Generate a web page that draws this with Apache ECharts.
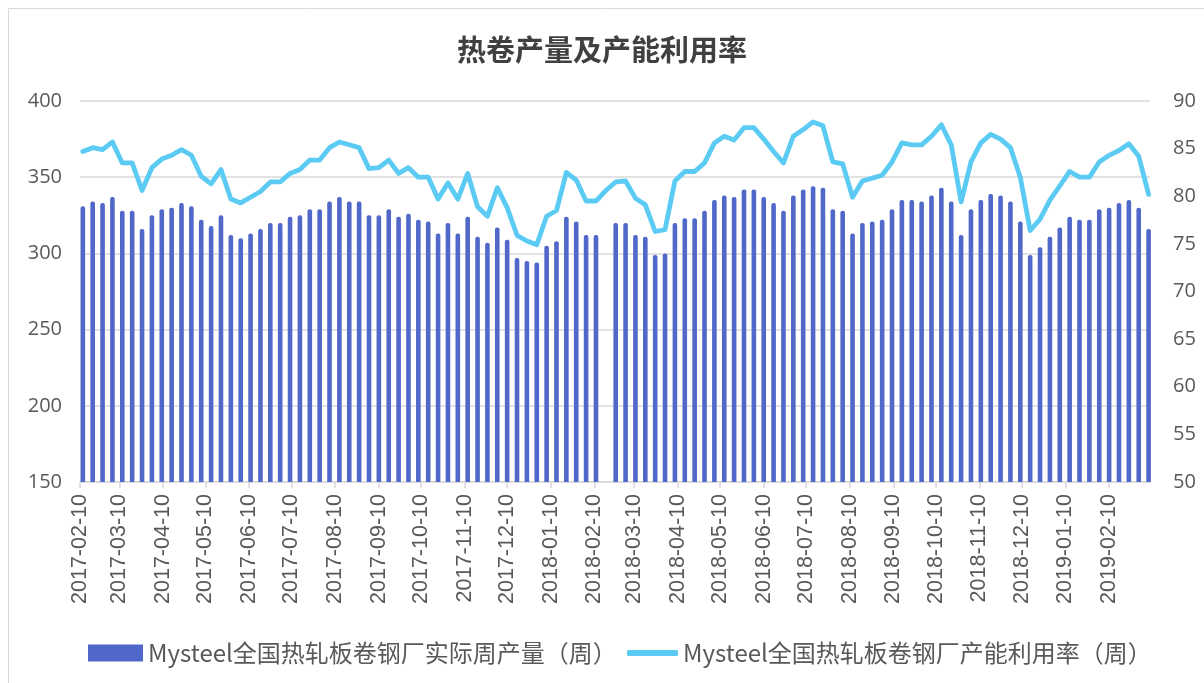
<!DOCTYPE html>
<html>
<head>
<meta charset="utf-8">
<script src="https://cdn.jsdelivr.net/npm/echarts@6/dist/echarts.min.js"></script>
<style>
html,body{margin:0;padding:0;background:#fff;}
#c{width:1204px;height:683px;}
</style>
</head>
<body>
<div id="c"></div>
<script>
// ---- data ----
const dates = [
'2017-02-12','2017-02-19','2017-02-26','2017-03-05','2017-03-12','2017-03-19','2017-03-26',
'2017-04-02','2017-04-09','2017-04-16','2017-04-23','2017-04-30','2017-05-07','2017-05-14',
'2017-05-21','2017-05-28','2017-06-04','2017-06-11','2017-06-18','2017-06-25','2017-07-02',
'2017-07-09','2017-07-16','2017-07-23','2017-07-30','2017-08-06','2017-08-13','2017-08-20',
'2017-08-27','2017-09-03','2017-09-10','2017-09-17','2017-09-24','2017-10-01','2017-10-08',
'2017-10-15','2017-10-22','2017-10-29','2017-11-05','2017-11-12','2017-11-19','2017-11-26',
'2017-12-03','2017-12-10','2017-12-17','2017-12-24','2017-12-31','2018-01-07','2018-01-14',
'2018-01-21','2018-01-28','2018-02-04','2018-02-11','2018-02-18','2018-02-25','2018-03-04',
'2018-03-11','2018-03-18','2018-03-25','2018-04-01','2018-04-08','2018-04-15','2018-04-22',
'2018-04-29','2018-05-06','2018-05-13','2018-05-20','2018-05-27','2018-06-03','2018-06-10',
'2018-06-17','2018-06-24','2018-07-01','2018-07-08','2018-07-15','2018-07-22','2018-07-29',
'2018-08-05','2018-08-12','2018-08-19','2018-08-26','2018-09-02','2018-09-09','2018-09-16',
'2018-09-23','2018-09-30','2018-10-07','2018-10-14','2018-10-21','2018-10-28','2018-11-04',
'2018-11-11','2018-11-18','2018-11-25','2018-12-02','2018-12-09','2018-12-16','2018-12-23',
'2018-12-30','2019-01-06','2019-01-13','2019-01-20','2019-01-27','2019-02-03','2019-02-10',
'2019-02-17','2019-02-24','2019-03-03','2019-03-10'
];
const production = [
331,334,333,337,328,328,316,325,329,330,333,331,322,318,325,312,310,313,316,320,320,
324,325,329,329,334,337,334,334,325,325,329,324,326,322,321,313,320,313,324,311,307,
317,309,297,295,294,305,308,324,321,312,312,null,320,320,312,311,299,300,320,323,323,
328,335,338,337,342,342,337,333,328,338,342,344,343,329,328,313,320,321,322,329,335,
335,334,338,343,334,312,329,335,339,338,334,321,299,304,311,317,324,322,322,329,330,
333,335,330,316
];
const utilization = [
84.7,85.1,84.9,85.7,83.5,83.5,80.6,83.0,83.9,84.3,84.9,84.3,82.1,81.3,82.8,79.7,79.3,
79.9,80.5,81.5,81.5,82.4,82.8,83.8,83.8,85.1,85.7,85.4,85.1,82.9,83.0,83.8,82.4,83.0,
82.0,82.0,79.7,81.4,79.7,82.4,78.9,77.9,80.9,78.8,75.9,75.3,74.9,77.9,78.5,82.5,81.7,
79.5,79.5,80.6,81.5,81.6,79.8,79.1,76.3,76.5,81.6,82.6,82.6,83.5,85.6,86.3,85.9,87.2,
87.2,86.0,84.7,83.5,86.3,87.0,87.8,87.4,83.6,83.4,79.9,81.6,81.9,82.2,83.6,85.6,85.4,
85.4,86.3,87.5,85.4,79.4,83.6,85.6,86.5,86.0,85.1,82.0,76.4,77.6,79.6,81.1,82.6,82.0,
82.0,83.6,84.3,84.8,85.5,84.2,80.2
];
const tickDates = [
'2017-02-10','2017-03-10','2017-04-10','2017-05-10','2017-06-10','2017-07-10','2017-08-10',
'2017-09-10','2017-10-10','2017-11-10','2017-12-10','2018-01-10','2018-02-10','2018-03-10',
'2018-04-10','2018-05-10','2018-06-10','2018-07-10','2018-08-10','2018-09-10','2018-10-10',
'2018-11-10','2018-12-10','2019-01-10','2019-02-10'
];
const axisStart = '2017-02-10';
const axisEnd = '2019-03-11';
const titleText = '热卷产量及产能利用率';
const barName = 'Mysteel全国热轧板卷钢厂实际周产量（周）';
const lineName = 'Mysteel全国热轧板卷钢厂产能利用率（周）';

// ---- helpers: dates -> day numbers on a value axis ----
const DAY = 86400000;
function utc(s){ const p = s.split('-').map(Number); return Date.UTC(p[0], p[1]-1, p[2]); }
const base = utc(axisStart);
function dayNum(s){ return Math.round((utc(s) - base) / DAY); }
function pad(n){ return (n<10?'0':'') + n; }
function dayLabel(v){ const d = new Date(base + v*DAY); return d.getUTCFullYear() + '-' + pad(d.getUTCMonth()+1) + '-' + pad(d.getUTCDate()); }

const tickVals = tickDates.map(dayNum);
const barData = dates.map((d,i)=>[dayNum(d), production[i]]);
const lineData = dates.map((d,i)=>[dayNum(d), utilization[i]]);

const chart = echarts.init(document.getElementById('c'), null, {renderer:'canvas'});
const labelColor = '#595959';
const gridColor = '#d9d9d9';
const cjk = '"Noto Sans CJK SC", "Noto Sans", sans-serif';

chart.setOption({
  animation: false,
  backgroundColor: '#ffffff',
  graphic: [{
    type: 'rect', silent: true,
    shape: {x: 8.5, y: 8.5, width: 1210, height: 700},
    style: {fill: 'none', stroke: '#d9d9d9', lineWidth: 1}
  }],
  title: {
    text: titleText, left: 'center', top: 30,
    textStyle: {fontFamily: cjk, fontSize: 29, fontWeight: 'bold', color: '#404040'}
  },
  legend: [{
    data: [barName], left: 83, top: 636,
    itemWidth: 55, itemHeight: 17, icon: 'rect',
    textStyle: {fontFamily: cjk, fontSize: 24, color: labelColor}
  },{
    data: [lineName], left: 622, top: 636,
    itemWidth: 51, itemHeight: 6, icon: 'roundRect',
    textStyle: {fontFamily: cjk, fontSize: 24, color: labelColor}
  }],
  grid: {left: 80, right: 54, top: 101, bottom: 201},
  xAxis: {
    type: 'value',
    min: dayNum(axisStart), max: dayNum(axisEnd),
    axisLine: {show: true, lineStyle: {color: gridColor, width: 1.5}},
    axisTick: {show: true, customValues: tickVals, length: 6, lineStyle: {color: gridColor, width: 1.5}},
    axisLabel: {
      customValues: tickVals, rotate: 90, margin: 12,
      formatter: function(v){ return dayLabel(v); },
      fontFamily: 'Liberation Sans, Arial, sans-serif', fontSize: 21.5, color: labelColor
    },
    splitLine: {show: false}
  },
  yAxis: [{
    type: 'value', min: 150, max: 400, interval: 50,
    axisLine: {show: false}, axisTick: {show: false},
    axisLabel: {margin: 18, fontFamily: '"Open Sans", sans-serif', fontSize: 20, color: labelColor},
    splitLine: {show: true, lineStyle: {color: gridColor, width: 1.5}}
  },{
    type: 'value', min: 50, max: 90, interval: 5,
    axisLine: {show: false}, axisTick: {show: false},
    axisLabel: {margin: 23, fontFamily: '"Open Sans", sans-serif', fontSize: 20, color: labelColor},
    splitLine: {show: false}
  }],
  series: [{
    name: barName, type: 'bar', yAxisIndex: 0,
    data: barData, barWidth: 4.6,
    itemStyle: {color: '#5068c9', borderRadius: [2,2,0,0]}
  },{
    name: lineName, type: 'line', yAxisIndex: 1,
    data: lineData, showSymbol: false, symbol: 'none',
    lineStyle: {color: '#5ccbf4', width: 4.8, join: 'round', cap: 'round'},
    itemStyle: {color: '#5ccbf4'},
    z: 3
  }]
});
</script>
</body>
</html>
